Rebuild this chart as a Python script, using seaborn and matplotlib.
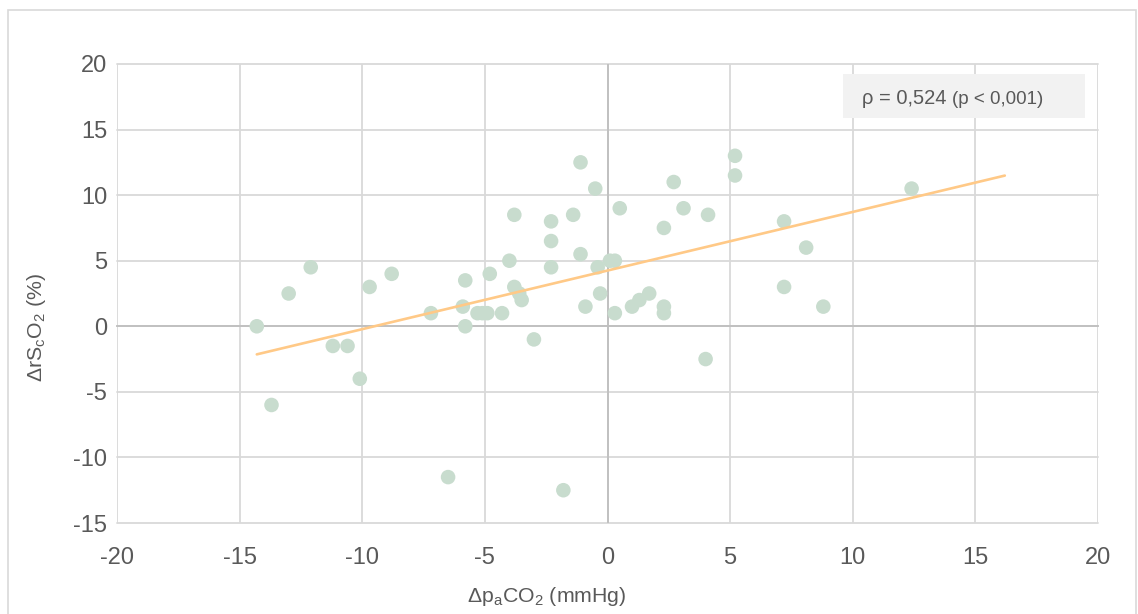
import numpy as np
import pandas as pd
import matplotlib
matplotlib.use("Agg")
import matplotlib.pyplot as plt
from matplotlib.patches import Rectangle
import seaborn as sns

# Change in arterial CO2 partial pressure (mmHg) for each patient
delta_paco2 = [
    -14.3, -13.7, -13.0, -12.1, -11.2, -10.6, -10.1, -9.7, -8.8, -7.2,
    -6.5, -5.8, -5.9, -5.8, -5.3, -5.1, -4.9, -4.8, -4.3, -4.0,
    -3.8, -3.6, -3.5, -3.8, -3.0, -2.3, -2.3, -2.3, -1.4, -1.1,
    -1.1, -0.9, -0.5, -0.4, -0.3, 0.1, 0.3, 0.3, 0.5, 1.0,
    1.3, 1.7, 2.3, 2.3, 2.3, 2.7, 3.1, 4.1, 4.0, 5.2,
    5.2, 7.2, 7.2, 8.1, 8.8, 12.4, -1.8,
]
# Change in cerebral regional oxygen saturation (%)
delta_rsco2 = [
    0.0, -6.0, 2.5, 4.5, -1.5, -1.5, -4.0, 3.0, 4.0, 1.0,
    -11.5, 3.5, 1.5, 0.0, 1.0, 1.0, 1.0, 4.0, 1.0, 5.0,
    3.0, 2.5, 2.0, 8.5, -1.0, 8.0, 6.5, 4.5, 8.5, 12.5,
    5.5, 1.5, 10.5, 4.5, 2.5, 5.0, 5.0, 1.0, 9.0, 1.5,
    2.0, 2.5, 1.5, 1.0, 7.5, 11.0, 9.0, 8.5, -2.5, 13.0,
    11.5, 8.0, 3.0, 6.0, 1.5, 10.5, -12.5,
]

# Linear trendline coefficients (ΔrScO2 = intercept + slope · ΔpaCO2)
trend_slope = 0.447
trend_intercept = 4.25
# Trendline runs from the first observation and is forecast forward
trend_forward = 3.8

x_ticks = list(range(-20, 21, 5))
y_ticks = list(range(-15, 21, 5))
rho_label = "ρ = 0,524"
p_label = "(p < 0,001)"
x_title = "Δp$_\\mathregular{a}$CO$_\\mathregular{2}$ (mmHg)"
y_title = "ΔrS$_\\mathregular{c}$O$_\\mathregular{2}$ (%)"

df = pd.DataFrame({"dpaco2": delta_paco2, "drsco2": delta_rsco2})
trend_x = np.array([df["dpaco2"].min(), df["dpaco2"].max() + trend_forward])
trend = pd.DataFrame({"x": trend_x, "y": trend_intercept + trend_slope * trend_x})

sns.set_theme(style="white")
plt.rcParams["font.family"] = ["Liberation Sans", "DejaVu Sans"]
plt.rcParams["axes.unicode_minus"] = False

TEXT = "#595959"
GRID = "#D9D9D9"
AXIS = "#BFBFBF"
W, H = 1138, 614

fig = plt.figure(figsize=(W / 100, H / 100), dpi=100)
ax = fig.add_axes([117 / W, (H - 523) / H, 981 / W, 459 / H])

sns.scatterplot(data=df, x="dpaco2", y="drsco2", ax=ax, s=110,
                color="#C8DCCE", edgecolor="none", linewidth=0, zorder=3)
sns.lineplot(data=trend, x="x", y="y", ax=ax, color="#FFC987",
             linewidth=1.9, zorder=4)

ax.set_xlim(-20, 20)
ax.set_ylim(-15, 20)
ax.set_xticks(x_ticks)
ax.set_yticks(y_ticks)
ax.grid(True, color=GRID, linewidth=1.3, zorder=0)
ax.set_axisbelow(True)
for gl in ax.get_xgridlines() + ax.get_ygridlines():
    gl.set_clip_on(False)

for side in ("top", "right", "left"):
    ax.spines[side].set_visible(False)
# Horizontal axis line crosses at zero, with outward tick marks
ax.spines["bottom"].set_position(("data", 0))
ax.spines["bottom"].set_color(AXIS)
ax.spines["bottom"].set_linewidth(1.3)
ax.spines["bottom"].set_zorder(1)
ax.tick_params(axis="x", direction="out", length=6, width=1.3,
               color=AXIS, labelbottom=False)
ax.axvline(0, color=AXIS, linewidth=1.3, zorder=1)

ax.tick_params(axis="y", length=0, labelsize=17, labelcolor=TEXT, pad=7)
ax.set_yticklabels([str(v) for v in y_ticks])

# Tick labels along the lower edge of the plot area
secx = ax.secondary_xaxis("bottom")
secx.set_xticks(x_ticks)
secx.set_xticklabels([str(v) for v in x_ticks])
secx.tick_params(length=0, labelsize=17, labelcolor=TEXT, pad=17)
secx.spines["bottom"].set_visible(False)

ax.set_xlabel("")
ax.set_ylabel("")
fig.text(547 / W, 1 - 597 / H, x_title, ha="center", va="center",
         fontsize=15.3, color=TEXT)
fig.text(36 / W, 1 - 328 / H, y_title, ha="center", va="center",
         rotation=90, fontsize=15.3, color=TEXT)

# Correlation box
fig.patches.append(Rectangle((843 / W, 1 - 118 / H), 242 / W, 44 / H,
                             transform=fig.transFigure, facecolor="#F2F2F2",
                             edgecolor="none", zorder=5))
t1 = fig.text(862 / W, 1 - 104 / H, rho_label, ha="left", va="baseline",
              fontsize=14.5, color=TEXT, zorder=6)
fig.canvas.draw()
bb = t1.get_window_extent()
fig.text((bb.x1 + 6) / W, 1 - 104 / H, p_label, ha="left", va="baseline",
         fontsize=13.5, color=TEXT, zorder=6)

# Chart frame
fig.patches.append(Rectangle((8 / W, -0.05), 1128 / W, 1 - 10 / H + 0.05,
                             transform=fig.transFigure, facecolor="none",
                             edgecolor=GRID, linewidth=1.2, zorder=0))

fig.savefig("out.png", dpi=100)
